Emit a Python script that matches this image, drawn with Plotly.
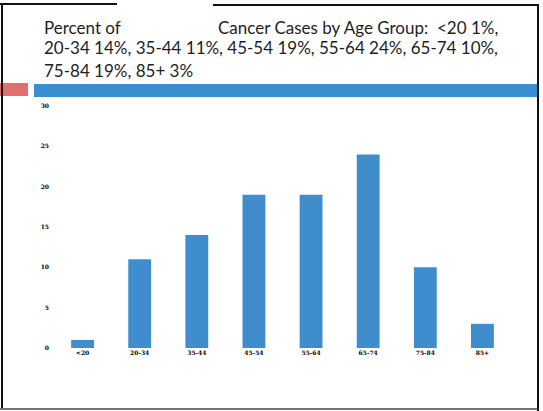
import plotly.graph_objects as go

age_groups = ["<20", "20-34", "35-44", "45-54", "55-64", "65-74", "75-84", "85+"]
percent_cases = [1, 11, 14, 19, 19, 24, 10, 3]
y_ticks = [0, 5, 10, 15, 20, 25, 30]

title_line1a = "Percent of"
title_line1b = "Cancer Cases by Age Group:  &lt;20 1%,"
title_line2 = "20-34 14%, 35-44 11%, 45-54 19%, 55-64 24%, 65-74 10%,"
title_line3 = "75-84 19%, 85+ 3%"

BAR = "#3f8dcc"
font_title = dict(family="Lato, DejaVu Sans, sans-serif", size=17, color="#1e1e1e")

W, H = 543, 411
L, R, T, B = 54, 511, 106, 348


def px(x):
    return (x - L) / (R - L)


def py(y):
    return (B - y) / (B - T)


fig = go.Figure(go.Bar(
    x=age_groups, y=percent_cases,
    marker=dict(color=BAR, line=dict(width=0)),
    width=0.4,
))

fig.update_layout(
    width=W, height=H,
    margin=dict(l=L, r=W - R, t=T, b=H - B),
    paper_bgcolor="white", plot_bgcolor="white",
    showlegend=False,
    xaxis=dict(showgrid=False, zeroline=False, showline=False, ticks="",
               tickvals=age_groups,
               ticktext=["<b>" + a.replace("<", "&lt;") + "</b>" for a in age_groups],
               tickfont=dict(family="DejaVu Serif", size=6, color="#000000")),
    yaxis=dict(range=[0, 30], tickvals=y_ticks,
               ticktext=["<b>%d</b>" % v for v in y_ticks],
               showgrid=False, zeroline=False,
               showline=False, ticks="", ticklabelstandoff=4,
               tickfont=dict(family="DejaVu Serif", size=6, color="#000000")),
)

ann = [
    dict(text=title_line1a, x=42, y=27),
    dict(text=title_line1b, x=216, y=27),
    dict(text=title_line2, x=42, y=48),
    dict(text=title_line3, x=42, y=70),
]
for a in ann:
    fig.add_annotation(text=a["text"], xref="paper", yref="paper",
                       x=px(a["x"]), y=py(a["y"]),
                       xanchor="left", yanchor="middle", showarrow=False,
                       font=font_title)

line_c = "#111111"
shapes = [
    # colour band
    dict(type="rect", xref="paper", yref="paper", x0=px(0), x1=px(28),
         y0=py(96), y1=py(83), fillcolor="#e0706b", line_width=0),
    dict(type="rect", xref="paper", yref="paper", x0=px(34), x1=px(538),
         y0=py(97), y1=py(84), fillcolor="#3a8fd0", line_width=0),
    # frame
    dict(type="line", xref="paper", yref="paper", x0=px(0), x1=px(117),
         y0=py(4), y1=py(4), line=dict(color=line_c, width=2)),
    dict(type="line", xref="paper", yref="paper", x0=px(213), x1=px(539),
         y0=py(5), y1=py(5), line=dict(color=line_c, width=2)),
    dict(type="line", xref="paper", yref="paper", x0=px(2), x1=px(2),
         y0=py(4), y1=py(408), line=dict(color=line_c, width=2)),
    dict(type="line", xref="paper", yref="paper", x0=px(538), x1=px(538),
         y0=py(5), y1=py(411), line=dict(color=line_c, width=2)),
    dict(type="line", xref="paper", yref="paper", x0=px(0), x1=px(538),
         y0=py(409), y1=py(409), line=dict(color="#444444", width=1.5)),
]
fig.update_layout(shapes=shapes)

fig.write_html("out.html", config={"displayModeBar": False},
               post_script="document.body.style.margin='0';document.body.style.overflow='hidden';")
